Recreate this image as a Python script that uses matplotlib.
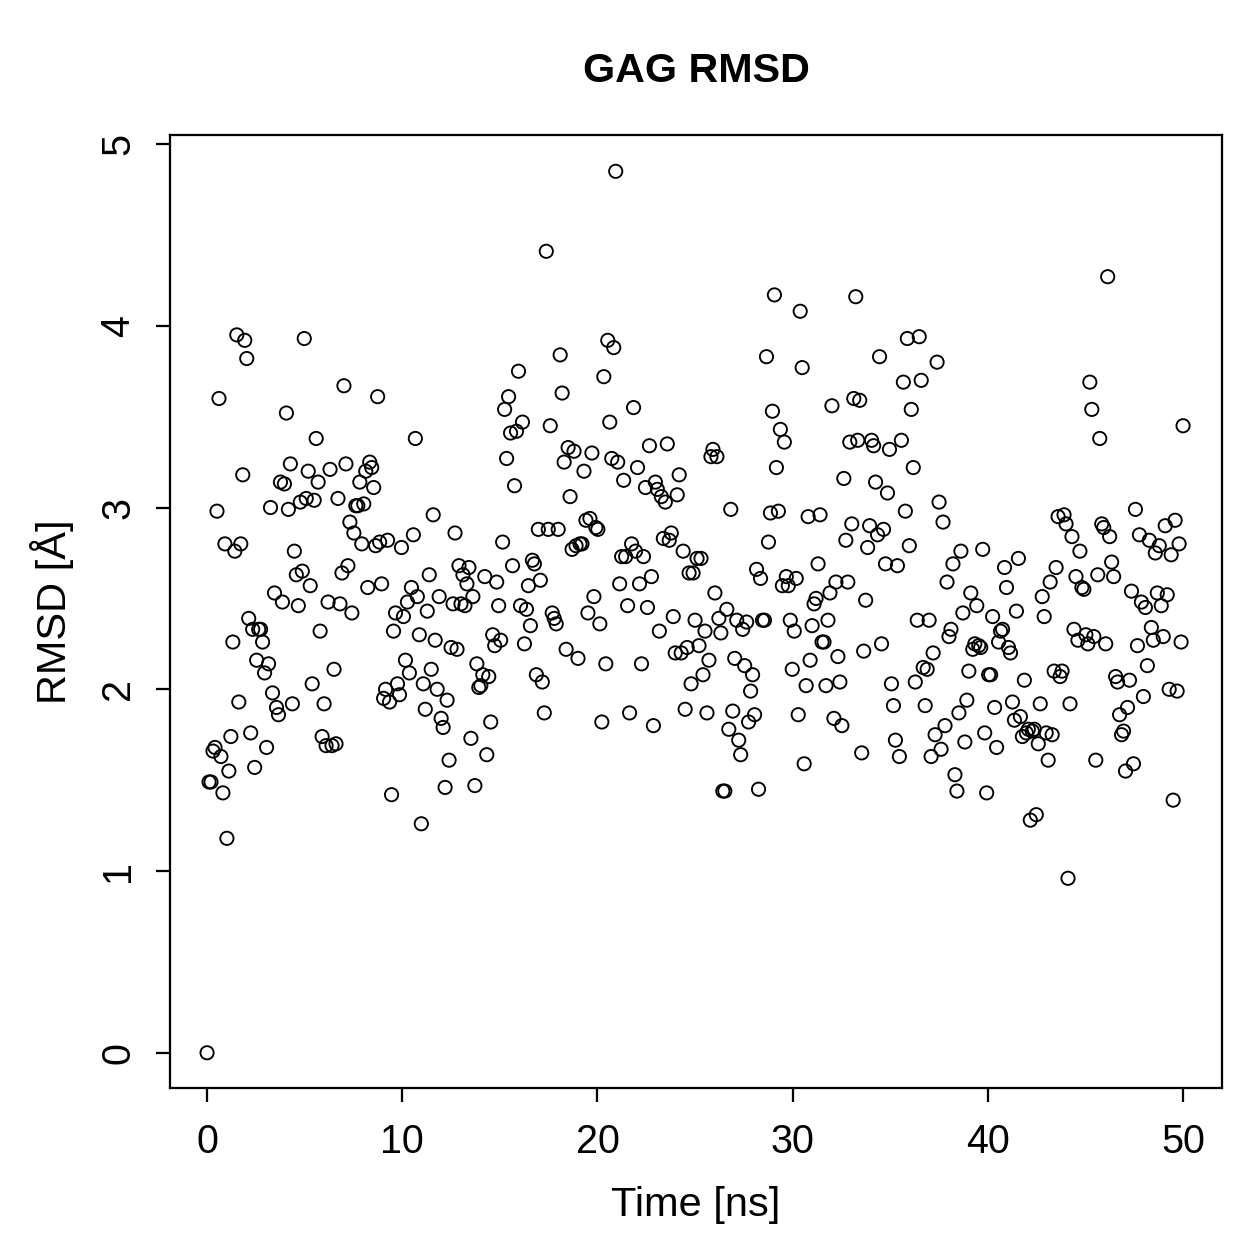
import numpy as np
import matplotlib
matplotlib.use('Agg')
import matplotlib.pyplot as plt

plt.rcParams['font.family'] = ['Liberation Sans', 'DejaVu Sans']

# RMSD values, in time order (0 .. 50 ns)
rmsd = [
    0.00, 1.49, 1.49, 1.66, 1.68, 2.98, 3.60, 1.63, 1.43, 2.80, 1.18, 1.55, 1.74, 2.26, 2.76, 3.95,
    1.93, 2.80, 3.18, 3.92, 3.82, 2.39, 1.76, 2.33, 1.57, 2.16, 2.33, 2.33, 2.26, 2.09, 1.68, 2.14,
    3.00, 1.98, 2.53, 1.90, 1.86, 3.14, 2.48, 3.13, 3.52, 2.99, 3.24, 1.92, 2.76, 2.63, 2.46, 3.03,
    2.65, 3.93, 3.05, 3.20, 2.57, 2.03, 3.04, 3.38, 3.14, 2.32, 1.74, 1.92, 1.69, 2.48, 3.21, 1.69,
    2.11, 1.70, 3.05, 2.47, 2.64, 3.67, 3.24, 2.68, 2.92, 2.42, 2.86, 3.01, 3.01, 3.14, 2.80, 3.02,
    3.20, 2.56, 3.25, 3.22, 3.11, 2.79, 3.61, 2.81, 2.58, 1.95, 2.00, 2.82, 1.93, 1.42, 2.32, 2.42,
    2.03, 1.97, 2.78, 2.40, 2.16, 2.48, 2.09, 2.56, 2.85, 3.38, 2.51, 2.30, 1.26, 2.03, 1.89, 2.43,
    2.63, 2.11, 2.96, 2.27, 2.00, 2.51, 1.84, 1.79, 1.46, 1.94, 1.61, 2.23, 2.47, 2.86, 2.22, 2.68,
    2.47, 2.63, 2.46, 2.58, 2.67, 1.73, 2.51, 1.47, 2.14, 2.01, 2.02, 2.08, 2.62, 1.64, 2.07, 1.82,
    2.30, 2.24, 2.59, 2.46, 2.27, 2.81, 3.54, 3.27, 3.61, 3.41, 2.68, 3.12, 3.42, 3.75, 2.46, 3.47,
    2.25, 2.44, 2.57, 2.35, 2.71, 2.69, 2.08, 2.88, 2.60, 2.04, 1.87, 4.41, 2.88, 3.45, 2.42, 2.39,
    2.36, 2.88, 3.84, 3.63, 3.25, 2.22, 3.33, 3.06, 2.77, 3.31, 2.79, 2.17, 2.80, 2.80, 3.20, 2.93,
    2.42, 2.94, 3.30, 2.51, 2.89, 2.88, 2.36, 1.82, 3.72, 2.14, 3.92, 3.47, 3.27, 3.88, 4.85, 3.25,
    2.58, 2.73, 3.15, 2.73, 2.46, 1.87, 2.80, 3.55, 2.76, 3.22, 2.58, 2.14, 2.73, 3.11, 2.45, 3.34,
    2.62, 1.80, 3.14, 3.10, 2.32, 3.06, 2.83, 3.03, 3.35, 2.82, 2.86, 2.40, 2.20, 3.07, 3.18, 2.20,
    2.76, 1.89, 2.23, 2.64, 2.03, 2.64, 2.38, 2.72, 2.24, 2.72, 2.08, 2.32, 1.87, 2.16, 3.28, 3.32,
    2.53, 3.28, 2.39, 2.31, 1.44, 1.44, 2.44, 1.78, 2.99, 1.88, 2.17, 2.38, 1.72, 1.64, 2.33, 2.13,
    2.37, 1.82, 1.99, 2.08, 1.86, 2.66, 1.45, 2.61, 2.38, 2.38, 3.83, 2.81, 2.97, 3.53, 4.17, 3.22,
    2.98, 3.43, 2.57, 3.36, 2.62, 2.57, 2.38, 2.11, 2.32, 2.61, 1.86, 4.08, 3.77, 1.59, 2.02, 2.95,
    2.16, 2.35, 2.47, 2.50, 2.69, 2.96, 2.26, 2.26, 2.02, 2.38, 2.53, 3.56, 1.84, 2.59, 2.18, 2.04,
    1.80, 3.16, 2.82, 2.59, 3.36, 2.91, 3.60, 4.16, 3.37, 3.59, 1.65, 2.21, 2.49, 2.78, 2.90, 3.37,
    3.34, 3.14, 2.85, 3.83, 2.25, 2.88, 2.69, 3.08, 3.32, 2.03, 1.91, 1.72, 2.68, 1.63, 3.37, 3.69,
    2.98, 3.93, 2.79, 3.54, 3.22, 2.04, 2.38, 3.94, 3.70, 2.12, 1.91, 2.11, 2.38, 1.63, 2.20, 1.75,
    3.80, 3.03, 1.67, 2.92, 1.80, 2.59, 2.29, 2.33, 2.69, 1.53, 1.44, 1.87, 2.76, 2.42, 1.71, 1.94,
    2.10, 2.53, 2.22, 2.25, 2.46, 2.24, 2.23, 2.77, 1.76, 1.43, 2.08, 2.08, 2.40, 1.90, 1.68, 2.26,
    2.32, 2.33, 2.67, 2.56, 2.23, 2.20, 1.93, 1.83, 2.43, 2.72, 1.85, 1.74, 2.05, 1.76, 1.78, 1.28,
    1.77, 1.78, 1.31, 1.70, 1.92, 2.51, 2.40, 1.76, 1.61, 2.59, 1.75, 2.10, 2.67, 2.95, 2.07, 2.10,
    2.96, 2.91, 0.96, 1.92, 2.84, 2.33, 2.62, 2.27, 2.76, 2.56, 2.55, 2.30, 2.25, 3.69, 3.54, 2.29,
    1.61, 2.63, 3.38, 2.91, 2.89, 2.25, 4.27, 2.84, 2.70, 2.62, 2.07, 2.04, 1.86, 1.75, 1.77, 1.55,
    1.90, 2.05, 2.54, 1.59, 2.99, 2.24, 2.85, 2.48, 1.96, 2.45, 2.13, 2.82, 2.34, 2.27, 2.75, 2.53,
    2.79, 2.46, 2.29, 2.90, 2.52, 2.00, 2.74, 1.39, 2.93, 1.99, 2.80, 2.26, 3.45,
]
time_ns = np.linspace(0, 50, len(rmsd))

x_ticks = [0, 10, 20, 30, 40, 50]
y_ticks = [0, 1, 2, 3, 4, 5]

fig = plt.figure(figsize=(1259 / 180, 1259 / 180), dpi=180)
ax = fig.add_axes([0.135, 0.1358, 0.8357, 0.757])

ax.scatter(time_ns, rmsd, s=28, facecolors='none', edgecolors='black', linewidths=0.75)

ax.set_xlim(-1.9, 52.0)
ax.set_ylim(-0.194, 5.05)
ax.set_xticks(x_ticks)
ax.set_yticks(y_ticks)
ax.tick_params(direction='out', length=5.5, width=0.9, labelsize=15.8, pad=8.5)
ax.tick_params(axis='y', pad=7.5)
for lab in ax.get_yticklabels():
    lab.set_rotation(90)
    lab.set_va('center')
for sp in ax.spines.values():
    sp.set_linewidth(0.9)

ax.set_xlabel('Time [ns]', fontsize=16.6, labelpad=10)
ax.set_ylabel('RMSD [Å]', fontsize=16.6, labelpad=10)
fig.text(0.553, 0.944, 'GAG RMSD', ha='center', va='center', fontsize=16.5, fontweight='bold')

fig.savefig('out.png', dpi=180)
